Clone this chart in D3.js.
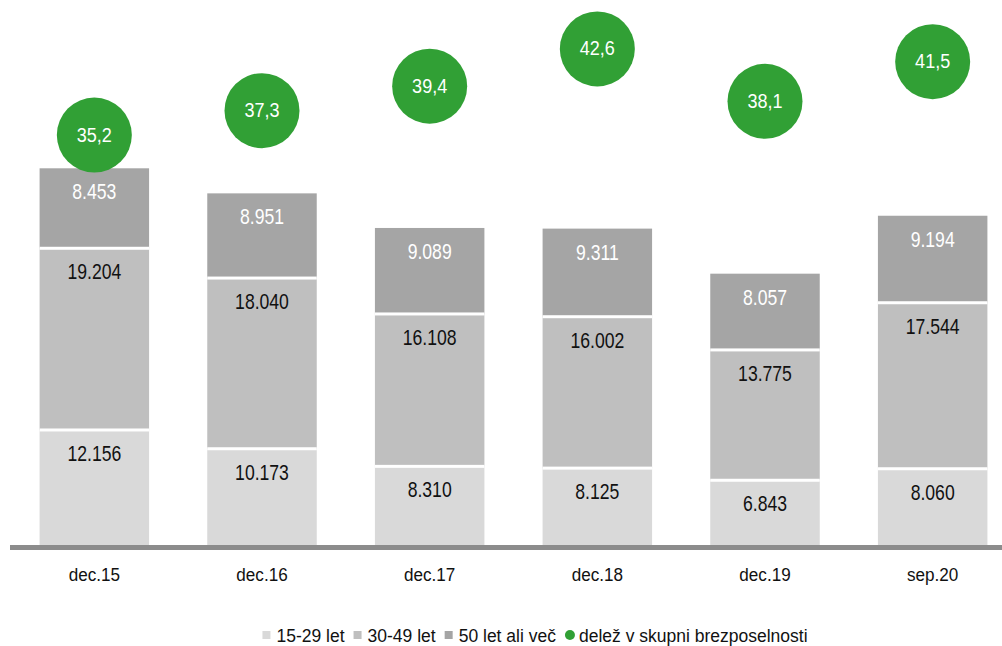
<!DOCTYPE html>
<html>
<head>
<meta charset="utf-8">
<script src="https://cdn.jsdelivr.net/npm/d3@7"></script>
<style>
  html, body { margin: 0; padding: 0; background: #fff; }
  svg { display: block; }
</style>
</head>
<body>
<svg id="chart" width="1002" height="646"></svg>
<script>
const categories = ["dec.15", "dec.16", "dec.17", "dec.18", "dec.19", "sep.20"];
const age15_29 = [12156, 10173, 8310, 8125, 6843, 8060];
const age30_49 = [19204, 18040, 16108, 16002, 13775, 17544];
const age50plus = [8453, 8951, 9089, 9311, 8057, 9194];
const share = [35.2, 37.3, 39.4, 42.6, 38.1, 41.5];
const seriesNames = ["15-29 let", "30-49 let", "50 let ali več"];
const shareName = "delež v skupni brezposelnosti";

const colors = ["#d9d9d9", "#bfbfbf", "#a5a5a5"];
const labelColors = ["#111", "#111", "#fff"];
const green = "#31a035";
const FONT = "'Liberation Sans', Arial, sans-serif";

const svg = d3.select("#chart");
const baseY = 545;

const x = d3.scaleBand().domain(categories).range([10.5, 1016.5])
  .paddingInner(0.347).paddingOuter(0.1735);
const y = d3.scaleLinear().domain([0, 57600]).range([baseY, 0]);
const y2 = d3.scaleLinear().domain([0, 46.8]).range([baseY, 0]);

const rows = categories.map((c, i) => ({ cat: c, a: age15_29[i], b: age30_49[i], c2: age50plus[i] }));
const stack = d3.stack().keys(["a", "b", "c2"])(rows);

const fmt = v => d3.format(",")(v).replace(/,/g, ".");
const cx = c => x(c) + x.bandwidth() / 2;

stack.forEach((layer, li) => {
  svg.append("g").selectAll("rect").data(layer).enter().append("rect")
    .attr("x", d => x(d.data.cat))
    .attr("width", x.bandwidth())
    .attr("y", d => y(d[1]))
    .attr("height", d => y(d[0]) - y(d[1]))
    .attr("fill", colors[li]);
});
// white separators between segments
stack.slice(1).forEach(layer => {
  svg.append("g").selectAll("rect").data(layer).enter().append("rect")
    .attr("x", d => x(d.data.cat))
    .attr("width", x.bandwidth())
    .attr("y", d => y(d[0]) - 1.5)
    .attr("height", 3)
    .attr("fill", "#fff");
});
// labels (condensed look)
stack.forEach((layer, li) => {
  svg.append("g").selectAll("text").data(layer).enter().append("text")
    .attr("transform", d => `translate(${cx(d.data.cat)},${y(d[1]) + 31}) scale(0.8,1)`)
    .attr("text-anchor", "middle")
    .attr("font-family", FONT)
    .attr("font-size", 22)
    .attr("fill", labelColors[li])
    .text(d => fmt(d.data[layer.key]));
});

// axis
svg.append("rect").attr("x", 10).attr("y", baseY).attr("width", 992).attr("height", 5).attr("fill", "#8c8c8c");
const xAxis = d3.axisBottom(x).tickSize(0).tickPadding(0);
const ax = svg.append("g").attr("transform", `translate(0,${baseY})`).call(xAxis);
ax.select(".domain").remove();
ax.selectAll("text")
  .attr("y", null).attr("dy", null)
  .attr("transform", "translate(0,36) scale(0.9,1)")
  .attr("font-family", FONT)
  .attr("font-size", 19).attr("fill", "#111");

// bubbles
const bub = svg.append("g");
bub.selectAll("circle").data(share).enter().append("circle")
  .attr("cx", (d, i) => cx(categories[i]))
  .attr("cy", d => y2(d))
  .attr("r", 37.5)
  .attr("fill", green);
bub.selectAll("text").data(share).enter().append("text")
  .attr("transform", (d, i) => `translate(${cx(categories[i])},${y2(d) + 6.5}) scale(0.95,1.05)`)
  .attr("text-anchor", "middle")
  .attr("font-family", FONT)
  .attr("font-size", 19)
  .attr("fill", "#fff")
  .text(d => d.toFixed(1).replace(".", ","));

// legend
const leg = svg.append("g").attr("font-family", FONT).attr("font-size", 17.5);
const items = seriesNames.map((n, i) => ({ name: n, color: colors[i], type: "sq" }))
  .concat([{ name: shareName, color: green, type: "ci" }]);
let lx = 0;
const legY = 642;
items.forEach(it => {
  const g = leg.append("g").attr("transform", `translate(${lx},0)`);
  if (it.type === "sq") {
    g.append("rect").attr("x", 0).attr("y", legY - 11).attr("width", 8).attr("height", 8).attr("fill", it.color);
  } else {
    g.append("circle").attr("cx", 5).attr("cy", legY - 7).attr("r", 5).attr("fill", it.color);
  }
  const off = it.type === "sq" ? 14 : 14;
  const t = g.append("text").attr("x", off).attr("y", legY).attr("fill", "#111").text(it.name);
  const w = t.node().getComputedTextLength();
  lx += off + w + 9;
});
const totalW = lx - 9;
leg.attr("transform", `translate(${(262 + 808) / 2 - totalW / 2},0)`);
</script>
</body>
</html>
